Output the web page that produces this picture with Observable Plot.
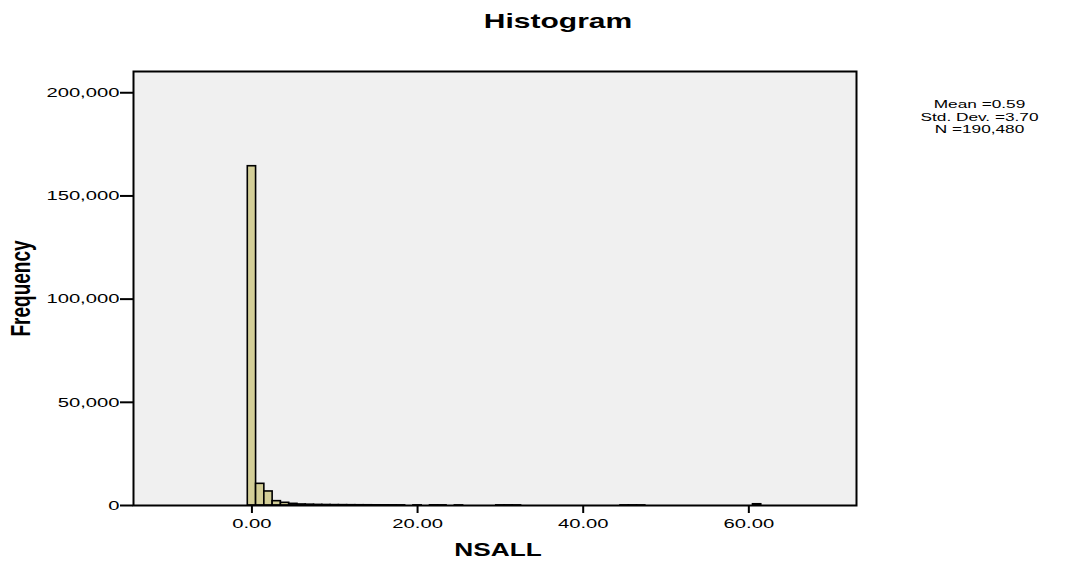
<!DOCTYPE html>
<html>
<head>
<meta charset="utf-8">
<script src="https://cdn.jsdelivr.net/npm/d3@7"></script>
<script src="https://cdn.jsdelivr.net/npm/@observablehq/plot@0.6"></script>
<style>
  body { margin: 0; background: #ffffff; }
</style>
</head>
<body>
<script>
// Histogram bins (centre of each 1-unit bin) and their frequencies
const binCenters = [0, 1, 2, 3, 4, 5, 6, 7, 8, 9, 10, 11, 12, 13, 14, 15, 16, 17, 18, 20, 22, 23, 25, 30, 31, 32, 45, 46, 47, 61];
const frequencies = [164400, 10500, 6800, 2100, 1300, 800, 500, 400, 300, 250, 200, 180, 150, 130, 120, 100, 90, 80, 70, 60, 80, 70, 50, 60, 70, 50, 50, 60, 50, 600];
const binWidth = 1;
const yTicks = [0, 50000, 100000, 150000, 200000];
const xTicks = [0, 20, 40, 60];
const titleText = "Histogram";
const xLabel = "NSALL";
const yLabel = "Frequency";
const statsText = "Mean =0.59\nStd. Dev. =3.70\nN =190,480";

const data = binCenters.map((c, i) => ({x1: c - binWidth / 2, x2: c + binWidth / 2, count: frequencies[i]}));

const font = "'Liberation Sans', Arial, Helvetica, sans-serif";

const svg = Plot.plot({
  width: 1066,
  height: 563,
  marginLeft: 133,
  marginRight: 210,
  marginTop: 71,
  marginBottom: 58,
  style: {fontFamily: font, fontSize: "13.5px", color: "black", background: "white"},
  x: {domain: [-14.3, 73.0]},
  y: {domain: [0, 210300]},
  marks: [
    Plot.frame({fill: "#F0F0F0"}),
    Plot.rectY(data, {x1: "x1", x2: "x2", y: "count", fill: "#D3CE97", stroke: "black", strokeWidth: 1.6, inset: 0}),
    Plot.frame({stroke: "black", strokeWidth: 2}),
    Plot.axisY({ticks: yTicks, tickFormat: d3.format(","), tickSize: 13, tickPadding: 1, strokeWidth: 2, label: null}),
    Plot.axisX({ticks: xTicks, tickFormat: d3.format(".2f"), tickSize: 8, tickPadding: 5, strokeWidth: 2, label: null}),
    Plot.text([titleText], {frameAnchor: "top", dx: 63, dy: -50, text: d => d, fontSize: 20, fontWeight: "bold", lineAnchor: "middle"}),
    Plot.text([xLabel], {frameAnchor: "bottom", dx: 3, dy: 45, text: d => d, fontSize: 17.5, fontWeight: "bold", lineAnchor: "middle"}),
    Plot.text([yLabel], {frameAnchor: "left", dx: -113, text: d => d, fontSize: 19, fontWeight: "bold", rotate: -90, textAnchor: "middle", lineAnchor: "middle"}),
    Plot.text([statsText], {frameAnchor: "top-right", dx: 123, dy: 27, text: d => d, fontSize: 11.5, textAnchor: "middle", lineAnchor: "top", lineHeight: 1.12})
  ]
});
document.body.append(svg);

// The reference rendering is horizontally stretched; widen glyphs the same way.
svg.querySelectorAll("text").forEach(t => {
  const x = t.getAttribute("x");
  if (x) t.setAttribute("x", +x / 1.5);
  const T = t.getAttribute("transform") || "";
  if (T.includes("rotate")) t.setAttribute("transform", T.replace("rotate", "scale(1.5,1) rotate"));
  else t.setAttribute("transform", (T + " scale(1.5,1)").trim());
});
</script>
</body>
</html>
